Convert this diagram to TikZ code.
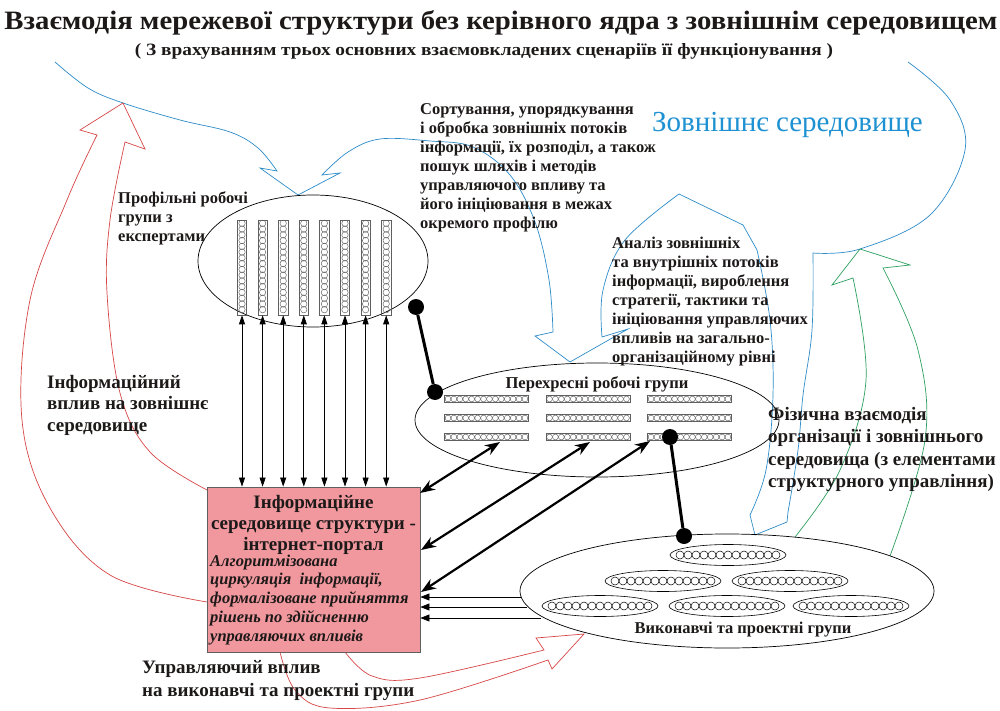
\documentclass[tikz,border=0pt]{standalone}
\usepackage{fontspec}
\setmainfont{Liberation Serif}
\usetikzlibrary{shapes.geometric,arrows.meta,calc}
\definecolor{envblue}{RGB}{45,140,200}
\definecolor{envtext}{RGB}{30,145,210}
\definecolor{infred}{RGB}{215,70,70}
\definecolor{phgreen}{RGB}{45,160,95}
\definecolor{portalpink}{RGB}{240,152,158}
\definecolor{ink}{RGB}{30,25,25}
\definecolor{cellgray}{RGB}{95,95,95}
\tikzset{
  lbl/.style={anchor=base west, align=left, inner sep=0pt, text=ink, font=\fontsize{16.5}{19}\selectfont\bfseries},
  biglbl/.style={lbl, font=\fontsize{19}{22.5}\selectfont\bfseries},
  grp/.style={ellipse, draw=black, line width=0.7pt, inner sep=0pt},
  colbox/.style={rectangle, draw=cellgray, line width=0.6pt, minimum width=9.5pt, minimum height=95pt, inner sep=0pt},
  barbox/.style={rectangle, draw=cellgray, line width=0.6pt, minimum width=84pt, minimum height=7pt, inner sep=0pt},
  subell/.style={ellipse, draw=black, line width=0.6pt, minimum width=116pt, minimum height=21pt, inner sep=0pt},
  cell/.style={draw=cellgray, line width=0.45pt},
  link/.style={line width=3pt, black},
  dot/.style={circle, fill=black, minimum size=16pt, inner sep=0pt},
  thinarr/.style={black, line width=0.7pt, {Triangle[length=9pt,width=6pt]}-{Triangle[length=9pt,width=6pt]}},
  thickarr/.style={black, line width=2.2pt, {Stealth[length=15pt,width=11pt]}-{Stealth[length=15pt,width=11pt]}},
  backarr/.style={black, line width=0.7pt, -{Triangle[length=9pt,width=7pt]}},
  envline/.style={envblue, line width=0.7pt, line join=miter},
  redline/.style={infred, line width=0.7pt},
  greenline/.style={phgreen, line width=0.7pt},
}
\begin{document}
\begin{tikzpicture}[x=1pt,y=-1pt]
\useasboundingbox (0,0) rectangle (1000,711);
\fill[white] (0,0) rectangle (1000,711);

% titles
\node[anchor=base, inner sep=0pt, text=ink] (title) at (501,30) {\resizebox{993pt}{19pt}{\bfseries Взаємодія мережевої структури без керівного ядра з зовнішнім середовищем}};
\node[anchor=base, inner sep=0pt, text=ink] (subtitle) at (484,56) {\resizebox{698pt}{12pt}{\bfseries ( З врахуванням трьох основних взаємовкладених сценаріїв її функціонування )}};

% external environment outline (blue)
\draw[envline] plot[smooth,tension=0.6] coordinates {(55,62) (88,88) (123,103) (180,120) (230,132) (258,148) (277,171)}
  -- (260,168) -- (298,195) -- (340,173) -- (322,175)
  -- plot[smooth,tension=0.6] coordinates {(322,175) (348,152) (380,139) (430,141) (473,147) (510,175) (535,222) (549,280) (553,332)}
  -- (535,336) -- (570,362) -- (628,329) -- (602,337)
  -- plot[smooth,tension=0.6] coordinates {(602,337) (603,290) (625,240) (679,194)}
  -- (743,225) -- (757,250)
  -- plot[smooth,tension=0.6] coordinates {(757,250) (770,320) (773,395) (766,470) (750,515)}
  -- (755,535) -- (787,522) -- (788,512)
  -- plot[smooth,tension=0.6] coordinates {(788,512) (798,450) (803,395) (812,330) (813,253)}
  -- plot[smooth,tension=0.6] coordinates {(813,253) (860,249) (930,215) (965,150) (950,100) (908,62)};
\node[anchor=base west, inner sep=0pt, text=envtext, font=\fontsize{29}{30}\selectfont] (env) at (652,132) {Зовнішнє середовище};

% red: information influence on environment
\draw[redline] plot[smooth,tension=0.6] coordinates {(207,602) (110,575) (50,508) (22,420) (30,300) (67,200) (97,135)}
  -- (80,130) -- (123,103) -- (145,149) -- (125,142)
  -- plot[smooth,tension=0.6] coordinates {(125,142) (110,220) (107,293) (120,393) (150,452) (207,490)};
% red: control influence on executive groups
\draw[redline] plot[smooth,tension=0.6] coordinates {(345,652) (372,676) (420,678) (544,650)}
  -- (536,638) -- (584,634) -- (552,669) -- (548,660)
  -- plot[smooth,tension=0.6] coordinates {(548,660) (420,700) (330,708) (295,690) (280,652)};
% green: physical interaction
\draw[greenline] plot[smooth,tension=0.6] coordinates {(795,537) (840,470) (866,380) (853,278)}
  -- (832,285) -- (860,249) -- (910,265) -- (883,268)
  -- plot[smooth,tension=0.6] coordinates {(883,268) (918,350) (925,440) (890,556)};

% profile groups ellipse
\node[grp, minimum width=230pt, minimum height=132pt] (prof) at (313,261) {};
\foreach \i in {0,...,7}{
  \pgfmathsetmacro{\cx}{242+\i*20.6}
  \node[colbox] (col\i) at (\cx,267.5) {};
  \foreach \k in {0,...,15}{
    \draw[cell] (\cx,{223.3+\k*5.76}) circle[radius=3.2pt];
  }
}

% cross groups ellipse
\node[grp, minimum width=364pt, minimum height=114pt] (cross) at (597,420) {};
\node[lbl, anchor=base, font=\fontsize{16.6}{19}\selectfont\bfseries] (crosslbl) at (597,388) {Перехресні робочі групи};
\foreach \r/\ry in {1/399,2/418,3/437}{
  \foreach \c/\cx in {1/486.5,2/588,3/689.5}{
    \node[barbox] (bar\r\c) at (\cx,\ry) {};
    \foreach \k in {0,...,13}{
      \draw[cell] ({\cx-38.5+\k*5.92},\ry) circle[radius=2.9pt];
    }
  }
}

% executive groups ellipse
\node[grp, minimum width=414pt, minimum height=114pt] (exec) at (727,591) {};
\foreach \n/\ex/\ey in {a/728/555,b/663/581,c/790/581,d/600/606,e/727/606,f/851/606}{
  \node[subell] (sub\n) at (\ex,\ey) {};
  \foreach \k in {0,...,12}{
    \draw[black, line width=0.5pt] ({\ex-48+\k*8},\ey) circle[radius=4pt];
  }
}
\node[lbl, anchor=base, font=\fontsize{16.5}{19}\selectfont\bfseries] (execlbl) at (743,633) {Виконавчі та проектні групи};

% portal box
\node[rectangle, draw=cellgray, fill=portalpink, line width=0.8pt, minimum width=213pt, minimum height=165pt, inner sep=0pt] (portal) at (313.5,569.5) {};
\node[anchor=base, align=center, inner sep=0pt, text=ink, font=\fontsize{19}{21}\selectfont\bfseries] (portaltitle) at (313.5,550) {Інформаційне\\середовище структури -\\інтернет-портал};
\node[lbl, font=\fontsize{16.5}{18.9}\selectfont\bfseries\itshape] (portaltext) at (210,641.6) {Алгоритмізована\\циркуляція\ \ інформації,\\формалізоване прийняття\\рішень по здійсненню\\управляючих впливів};

% vertical arrows profile -> portal
\foreach \i in {0,...,7}{
  \draw[thinarr] (col\i.south) -- (col\i.south |- portal.north);
}

% thick arrows cross -> portal
\coordinate (c1) at (500,442);
\coordinate (c2) at (590,442);
\coordinate (c3) at (650,441);
\coordinate (p1) at (420,493);
\coordinate (p2) at (421,550);
\coordinate (p3) at (421,592);
\draw[thickarr] (p1) -- (c1);
\draw[thickarr] (p2) -- (c2);
\draw[thickarr] (p3) -- (c3);

% thin arrows exec -> portal
\coordinate (e1) at (521,597);
\coordinate (e2) at (527,607);
\coordinate (e3) at (541,618);
\draw[backarr] (e1) -- (e1 -| portal.east);
\draw[backarr] (e2) -- (e2 -| portal.east);
\draw[backarr] (e3) -- (e3 -| portal.east);

% dots and links
\node[dot] (d1) at (416,307) {};
\node[dot] (d2) at (435,392) {};
\node[dot] (d3) at (670,437) {};
\node[dot] (d4) at (684,536) {};
\draw[link] (d1) -- (d2);
\draw[link] (d3) -- (d4);

% labels (anchor = baseline of last line)
\node[lbl] (proflbl) at (118,241) {Профільні робочі\\групи з\\експертами};
\node[lbl] (sortlbl) at (420,229) {Сортування, упорядкування\\і обробка зовнішніх потоків\\інформації, їх розподіл, а також\\пошук шляхів і методів\\управляючого впливу та\\його ініціювання в межах\\окремого профілю};
\node[lbl] (analbl) at (612,362) {Аналіз зовнішніх\\та внутрішніх потоків\\інформації, вироблення\\стратегії, тактики та\\ініціювання управляючих\\впливів на загально-\\організаційному рівні};
\node[biglbl, font=\fontsize{19}{21.7}\selectfont\bfseries] (inflbl) at (47,431.4) {Інформаційний\\вплив на зовнішнє\\середовище};
\node[biglbl] (physlbl) at (768,487.5) {Фізична взаємодія\\організації і зовнішнього\\середовища (з елементами\\структурного управління)};
\node[biglbl, font=\fontsize{19}{23}\selectfont\bfseries] (ctrllbl) at (142,696) {Управляючий вплив\\на виконавчі та проектні групи};
\end{tikzpicture}
\end{document}
